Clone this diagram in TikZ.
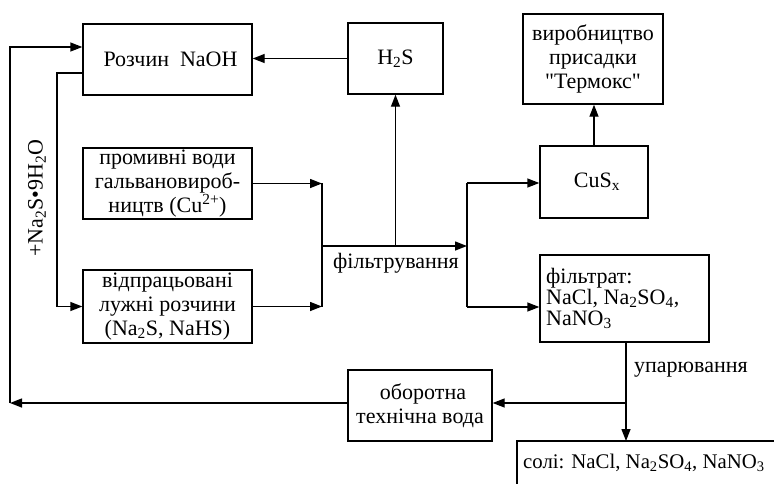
\documentclass[tikz,border=0pt]{standalone}
\usepackage{fontspec}
\setmainfont{Liberation Serif}
\usetikzlibrary{arrows.meta,calc}
\newcommand{\sqq}{\XeTeXglyph\XeTeXcharglyph"22\relax}
\begin{document}
\begin{tikzpicture}[x=1pt,y=-1pt,
  box/.style={draw,line width=1.4pt,inner sep=0pt,align=center,font=\fontsize{22}{24}\selectfont},
  lbl/.style={inner sep=0pt,font=\fontsize{22}{24}\selectfont},
  conn/.style={line width=1.4pt},
  arr/.style={line width=1.4pt,-{Triangle[length=12pt,width=9pt]}}]
\useasboundingbox (0,0) rectangle (774,483);
\clip (0,0) rectangle (774,483);
% boxes
\node[box,minimum width=169pt,minimum height=71pt] (naoh) at (167.5,59.5) {\hspace*{6pt}Розчин\ \ NaOH};
\node[box,minimum width=95pt,minimum height=71pt] (h2s) at (395.5,58.5) {H\textsubscript{2}S};
\node[box,minimum width=169pt,minimum height=71pt] (prom) at (167.5,183.5) {промивні води\\гальванови\-роб-\\ництв (Cu\textsuperscript{2+})};
\node[box,minimum width=169pt,minimum height=73pt] (vidp) at (167.5,306.5) {відпрацьовані\\лужні розчини\\(Na\textsubscript{2}S, NaHS)};
\node[box,minimum width=108pt,minimum height=72pt] (cus) at (594,182) {\hspace*{6pt}CuS\textsubscript{x}};
\node[box,minimum width=140pt,minimum height=90pt] (vyr) at (593,59) {виробництво\\присадки\\\sqq Термокс\sqq};
\node[box,minimum width=169pt,minimum height=87pt] (filt) at (624.5,298.5) {};
\node[lbl,anchor=west,align=left,font=\fontsize{22}{21}\selectfont] (filtt) at (546,298) {фільтрат:\\NaCl, Na\textsubscript{2}SO\textsubscript{4},\\NaNO\textsubscript{3}};
\node[box,minimum width=144pt,minimum height=71pt] (obor) at (420,405.5) {\hspace*{6pt}оборотна\\технічна вода};
\node[box,minimum width=273pt,minimum height=59pt] (soli) at (653.5,470.5) {};
\node[lbl,anchor=west,font=\fontsize{20.8}{24}\selectfont] (solit) at (523,463) {солі: NaCl, Na\textsubscript{2}SO\textsubscript{4}, NaNO\textsubscript{3}};
% labels
\node[lbl,rotate=90] (na2s) at (37,198) {+Na\textsubscript{2}S•9H\textsubscript{2}O};
\node[lbl] (filtr) at (396,263) {фільтрування};
\node[lbl,anchor=west] (upar) at (634,370) {упарювання};
% coordinates
\coordinate (l1) at (10,403);
\coordinate (l2) at (10,47);
\coordinate (m1) at (57,73);
\coordinate (j1) at (322,183);
\coordinate (j2) at (322,246);
\coordinate (j3) at (467,246);
\coordinate (j4) at (467,183);
\coordinate (j5) at (467,307);
\coordinate (k1) at (626,403);
\coordinate (k0) at (626,342);
\coordinate (k2) at (626,441);
% connectors
\draw[arr] (h2s.west) -- (h2s.west -| naoh.east);
\draw[arr] (obor.west |- l1) -- (l1);
\draw[arr] (l1) -- (l2) -- (l2 -| naoh.west);
\draw[arr] (m1 -| naoh.west) -- (m1) |- (vidp.west);
\draw[arr] (prom.east) -- (prom.east -| j1);
\draw[arr] (vidp.east) -- (vidp.east -| j1);
\draw[conn] (j1) -- (j1 |- vidp.east);
\draw[arr] (j2) -- (j3);
\draw[arr] (h2s.south |- j2) -- (h2s.south);
\draw[conn] (j4) -- (j5);
\draw[arr] (j4) -- (j4 -| cus.west);
\draw[arr] (j5) -- (j5 -| filt.west);
\draw[arr] (cus.north) -- (cus.north |- vyr.south);
\draw[arr] (k0) -- (k2);
\draw[arr] (k1) -- (k1 -| obor.east);
\end{tikzpicture}
\end{document}
